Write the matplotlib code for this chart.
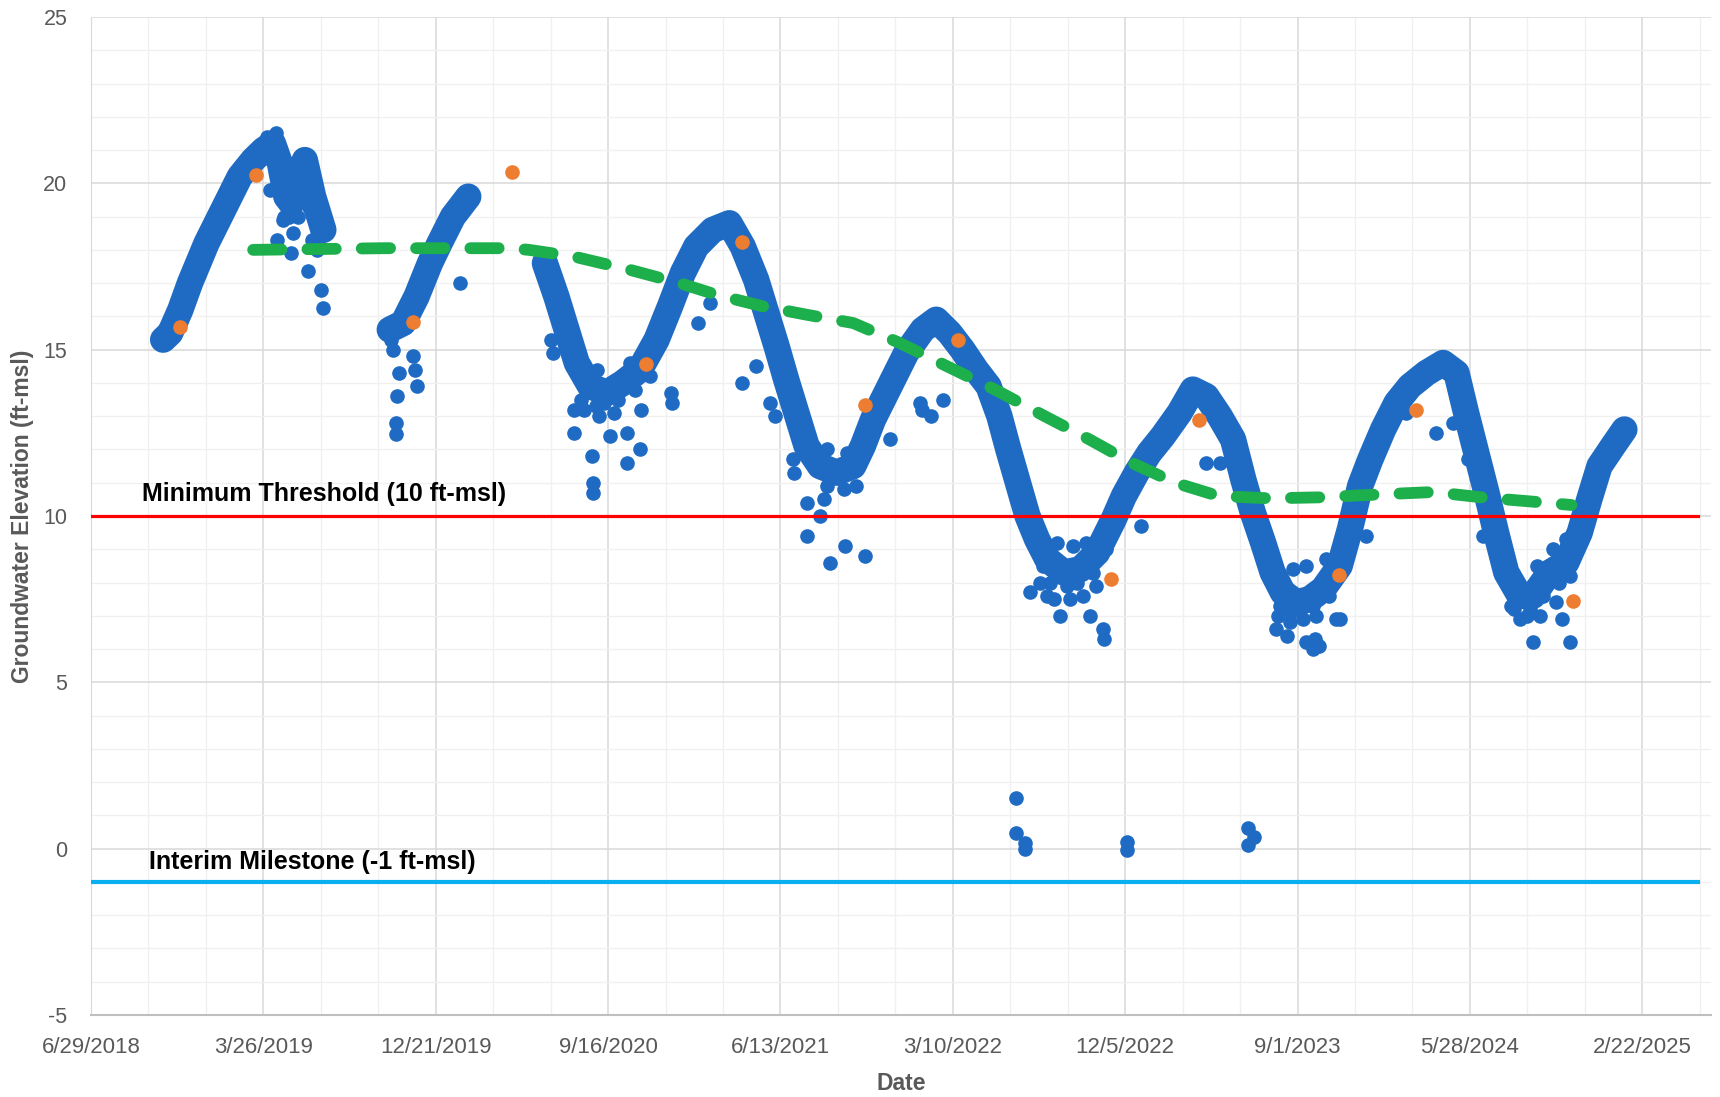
import pandas as pd
import matplotlib
matplotlib.use('Agg')
import matplotlib.pyplot as plt

plt.rcParams['axes.unicode_minus'] = False

# continuous logger record, three pieces with gaps between
seg1_dates = ['2018-10-20', '2018-10-31', '2018-11-16', '2018-12-01', '2018-12-27', '2019-01-22',
              '2019-02-17', '2019-03-10', '2019-03-26', '2019-04-10', '2019-04-21', '2019-05-01',
              '2019-05-09', '2019-05-17', '2019-05-30', '2019-06-12', '2019-06-28']
seg1_vals = [15.3, 15.5, 16.2, 17.0, 18.2, 19.2,
             20.2, 20.7, 21.0, 21.2, 20.6, 19.6,
             19.4, 20.0, 20.7, 19.6, 18.6]

seg2_dates = ['2019-10-10', '2019-10-31', '2019-11-21', '2019-12-12', '2019-12-27', '2020-01-17', '2020-02-10']
seg2_vals = [15.6, 15.8, 16.6, 17.6, 18.2, 19.0, 19.6]

seg3_dates = ['2020-06-09', '2020-06-27', '2020-07-13', '2020-07-29', '2020-08-19', '2020-09-14',
              '2020-10-09', '2020-11-05', '2020-12-01', '2020-12-22', '2021-01-11', '2021-02-01',
              '2021-02-27', '2021-03-25', '2021-04-15', '2021-05-06', '2021-05-22', '2021-06-07',
              '2021-06-22', '2021-07-08', '2021-07-24', '2021-08-14', '2021-09-09', '2021-10-05',
              '2021-10-20', '2021-11-05', '2021-12-01', '2021-12-27', '2022-01-22', '2022-02-12',
              '2022-03-05', '2022-03-25', '2022-04-15', '2022-05-05', '2022-05-22', '2022-06-05',
              '2022-06-20', '2022-07-05', '2022-07-20', '2022-08-05', '2022-08-31', '2022-09-26',
              '2022-10-22', '2022-11-17', '2022-12-03', '2022-12-23', '2023-01-12', '2023-02-02',
              '2023-02-28', '2023-03-21', '2023-04-11', '2023-05-02', '2023-05-23', '2023-06-08',
              '2023-06-23', '2023-07-09', '2023-07-24', '2023-08-09', '2023-08-30', '2023-09-20',
              '2023-10-11', '2023-11-06', '2023-11-22', '2023-12-08', '2023-12-24', '2024-01-13',
              '2024-02-03', '2024-02-24', '2024-03-21', '2024-04-16', '2024-05-07', '2024-05-22',
              '2024-06-07', '2024-06-23', '2024-07-08', '2024-07-24', '2024-08-14', '2024-09-04',
              '2024-09-30', '2024-10-26', '2024-11-16', '2024-12-01', '2024-12-17', '2025-01-07',
              '2025-01-25']
seg3_vals = [17.6, 16.6, 15.6, 14.6, 13.9, 13.7,
             14.0, 14.4, 15.3, 16.3, 17.3, 18.1,
             18.6, 18.8, 18.1, 17.1, 16.1, 15.1,
             14.1, 13.1, 12.1, 11.5, 11.3, 11.5,
             12.1, 12.9, 13.9, 14.9, 15.6, 15.9,
             15.5, 15.0, 14.4, 13.9, 13.0, 12.0,
             11.0, 10.0, 9.3, 8.7, 8.3, 8.4,
             8.9, 9.9, 10.6, 11.3, 11.9, 12.4,
             13.1, 13.8, 13.6, 13.0, 12.3, 11.1,
             10.1, 9.2, 8.3, 7.7, 7.4, 7.5,
             7.8, 8.5, 9.6, 10.9, 11.7, 12.6,
             13.4, 13.9, 14.3, 14.6, 14.3, 13.1,
             11.9, 10.7, 9.5, 8.3, 7.6, 7.6,
             8.3, 8.6, 9.5, 10.5, 11.5, 12.1,
             12.6]

# scattered individual readings away from the main trace
pts_dates = ['2019-04-16', '2019-04-25', '2019-05-09', '2019-06-04', '2019-06-25', '2019-06-27',
             '2019-05-20', '2019-06-10', '2019-04-05', '2019-04-28', '2019-05-12', '2019-05-25',
             '2019-06-18', '2019-04-01', '2019-04-15', '2019-04-30', '2019-05-05', '2019-05-15',
             '2019-06-05', '2019-06-20',
             '2019-10-12', '2019-10-15', '2019-10-19', '2019-10-20', '2019-10-21', '2019-10-25',
             '2019-11-16', '2019-11-18', '2019-11-21', '2020-01-28',
             '2020-06-19', '2020-06-22', '2020-07-24', '2020-07-25', '2020-08-22', '2020-08-23',
             '2020-08-24', '2020-09-19', '2020-10-15', '2020-10-16', '2020-11-05', '2020-11-07',
             '2020-12-24', '2020-12-25', '2021-02-04', '2021-02-22', '2021-04-13', '2021-05-06',
             '2021-05-27', '2021-06-05', '2021-07-03', '2021-07-05', '2021-07-24', '2021-08-14',
             '2021-07-24', '2021-08-29', '2021-09-22', '2021-10-23', '2021-08-20', '2021-12-01',
             '2022-01-17', '2022-01-20',
             '2020-08-10', '2020-09-01', '2020-09-25', '2020-08-30', '2020-10-20',
             '2020-08-05', '2020-08-28', '2020-09-10', '2020-10-01', '2020-10-28', '2020-11-20',
             '2021-08-25', '2021-09-20', '2021-10-10', '2021-08-25', '2021-09-25',
             '2022-02-23', '2022-02-04', '2022-07-09', '2022-08-05', '2022-08-25', '2022-10-11',
             '2022-11-01', '2022-11-02', '2022-12-29', '2023-04-11', '2023-05-02',
             '2022-07-25', '2022-08-15', '2022-09-10', '2022-09-30', '2022-10-20', '2022-08-20',
             '2022-09-15', '2022-10-05',
             '2022-07-30', '2022-08-10', '2022-09-05', '2022-09-20', '2022-10-15', '2022-11-05',
             '2023-07-29', '2023-08-15', '2023-10-05', '2023-09-28', '2023-11-01', '2023-09-15',
             '2023-09-25', '2023-11-06',
             '2023-08-01', '2023-08-20', '2023-09-10', '2023-09-30', '2023-08-25', '2023-09-15',
             '2023-10-15',
             '2023-08-05', '2023-08-22', '2023-09-05', '2023-09-25', '2023-10-20',
             '2024-08-14', '2024-09-04', '2024-10-31', '2024-10-20', '2024-02-18', '2024-04-05',
             '2024-05-02', '2023-12-18', '2024-05-25', '2024-06-17',
             '2024-08-01', '2024-08-25', '2024-09-15', '2024-10-10', '2024-09-10', '2024-10-05',
             '2024-10-25',
             '2024-08-05', '2024-08-30', '2024-09-20', '2024-10-15', '2024-11-01',
             '2022-06-17', '2022-06-17', '2022-07-01', '2022-07-01', '2022-12-08', '2022-12-08',
             '2023-06-16', '2023-06-24', '2023-06-16']
pts_vals = [18.3, 18.9, 17.9, 17.35, 16.8, 16.25,
            19.0, 18.3, 19.8, 19.0, 18.5, 19.5,
            18.0, 21.4, 21.5, 20.3, 19.0, 19.6,
            19.3, 18.2,
            15.3, 15.0, 12.45, 12.8, 13.6, 14.3,
            14.8, 14.4, 13.9, 17.0,
            15.3, 14.9, 13.2, 12.5, 11.8, 11.0,
            10.7, 12.4, 12.5, 11.6, 12.0, 13.2,
            13.7, 13.4, 15.8, 16.4, 14.0, 14.5,
            13.4, 13.0, 11.7, 11.3, 10.4, 10.0,
            9.4, 8.6, 9.1, 8.8, 10.5, 12.3,
            13.4, 13.2,
            13.2, 13.0, 13.1, 14.4, 14.6,
            13.5, 13.3, 13.4, 13.5, 13.8, 14.2,
            10.9, 10.8, 10.9, 12.0, 11.9,
            13.5, 13.0, 7.7, 7.6, 7.0, 7.0,
            6.6, 6.3, 9.7, 11.6, 11.6,
            8.0, 7.5, 7.5, 7.6, 7.9, 9.2,
            9.1, 9.2,
            8.5, 8.0, 7.9, 8.0, 8.3, 9.0,
            6.6, 6.4, 6.1, 6.3, 6.9, 6.2,
            6.0, 6.9,
            7.0, 6.8, 6.9, 7.0, 8.4, 8.5,
            8.7,
            7.3, 7.1, 7.2, 7.3, 7.6,
            6.9, 6.2, 6.2, 6.9, 13.1, 12.5,
            12.8, 9.4, 11.7, 9.4,
            7.3, 7.0, 7.0, 7.4, 8.5, 9.0,
            9.3,
            7.2, 7.2, 7.6, 8.0, 8.2,
            1.52, 0.46, 0.16, 0.0, 0.21, -0.04,
            0.61, 0.36, 0.1]

# manual measurements
manual_dates = ['2018-11-16', '2019-03-14', '2019-11-15', '2020-04-18', '2020-11-15', '2021-04-13',
                '2021-10-23', '2022-03-18', '2022-11-12', '2023-03-31', '2023-11-05', '2024-03-05',
                '2024-11-05']
manual_vals = [15.67, 20.25, 15.82, 20.35, 14.56, 18.25,
               13.34, 15.28, 8.11, 12.9, 8.23, 13.2,
               7.43]

# trend
trend_dates = ['2019-03-10', '2019-10-01', '2020-04-15', '2020-05-15', '2020-07-24', '2020-10-20',
               '2021-01-06', '2021-03-05', '2021-05-17', '2021-07-24', '2021-10-05', '2021-12-17',
               '2022-03-01', '2022-05-15', '2022-08-01', '2022-10-10', '2022-12-15', '2023-02-21',
               '2023-04-30', '2023-07-20', '2023-10-05', '2024-01-10', '2024-04-01', '2024-06-20',
               '2024-09-04', '2024-11-03']
trend_vals = [18.0, 18.05, 18.05, 18.0, 17.8, 17.4,
              17.0, 16.65, 16.3, 16.05, 15.8, 15.2,
              14.5, 13.8, 13.0, 12.3, 11.6, 11.0,
              10.6, 10.53, 10.56, 10.65, 10.72, 10.55,
              10.43, 10.33]

min_threshold = 10
interim_milestone = -1
line_span = ['2018-06-29', '2025-05-20']

start = pd.Timestamp('2018-06-29')
tick_dates = [start + pd.Timedelta(days=270 * i) for i in range(10)]
tick_labels = [f'{d.month}/{d.day}/{d.year}' for d in tick_dates]
minor_dates = [start + pd.Timedelta(days=90 * i) for i in range(29)]

fig = plt.figure(figsize=(17.2, 10.97), dpi=100)
ax = fig.add_axes([0.0529, 0.0748, 0.942, 0.9097])

blue = '#1F6BC4'
for d, v in [(seg1_dates, seg1_vals), (seg2_dates, seg2_vals), (seg3_dates, seg3_vals)]:
    ax.plot(pd.to_datetime(d), v, color=blue, lw=19, solid_capstyle='round',
            solid_joinstyle='round', marker='o', ms=10, zorder=3)
ax.plot(pd.to_datetime(pts_dates), pts_vals, 'o', color=blue, ms=9.5, zorder=3)

ax.plot(pd.to_datetime(line_span), [min_threshold] * 2, color='#FF0000', lw=2.3, zorder=4)
ax.plot(pd.to_datetime(line_span), [interim_milestone] * 2, color='#0AAFF0', lw=3, zorder=4)

ax.plot(pd.to_datetime(trend_dates), trend_vals, color='#1DAF4C', lw=8.5,
        dashes=(2.4, 2.2), dash_capstyle='round', zorder=5)
ax.plot(pd.to_datetime(manual_dates), manual_vals, 'o', color='#ED7D31', ms=9.5, zorder=6)

ax.text(pd.Timestamp('2018-09-17'), 10.45, 'Minimum Threshold (10 ft-msl)', fontsize=18,
        fontweight='bold', family='Liberation Sans', va='baseline', zorder=7)
ax.text(pd.Timestamp('2018-09-28'), -0.6, 'Interim Milestone (-1 ft-msl)', fontsize=18,
        fontweight='bold', family='Liberation Sans', va='baseline', zorder=7)

ax.set_xlim(start, pd.Timestamp('2025-06-10'))
ax.set_ylim(-5, 25)
ax.set_xticks(tick_dates)
ax.set_xticklabels(tick_labels)
ax.set_xticks(minor_dates, minor=True)
ax.set_yticks(range(-5, 26, 5))
ax.set_yticks(range(-5, 26), minor=True)

ax.grid(which='major', color='#D9D9D9', lw=1.1, zorder=0)
ax.grid(which='minor', color='#F0F0F0', lw=1.0, zorder=0)
ax.set_axisbelow(True)
ax.tick_params(which='both', length=0)
ax.tick_params(axis='x', pad=16, labelsize=16, labelcolor='#595959')
ax.tick_params(axis='y', pad=17, labelsize=15.5, labelcolor='#595959')
for lab in ax.get_xticklabels() + ax.get_yticklabels():
    lab.set_family('Liberation Sans')

for s in ['top', 'right']:
    ax.spines[s].set_visible(False)
ax.spines['left'].set_color('#D9D9D9')
ax.spines['bottom'].set_color('#BFBFBF')
ax.spines['bottom'].set_linewidth(1.5)

ax.set_ylabel('Groundwater Elevation (ft-msl)', fontsize=16.5, fontweight='bold',
              color='#595959', family='Liberation Sans')
ax.yaxis.set_label_coords(-0.035, 0.5)
ax.set_xlabel('Date', fontsize=16.5, fontweight='bold', color='#595959', family='Liberation Sans', va='top')
ax.xaxis.set_label_coords(0.5, -0.057)

fig.savefig('out.png', dpi=100)
